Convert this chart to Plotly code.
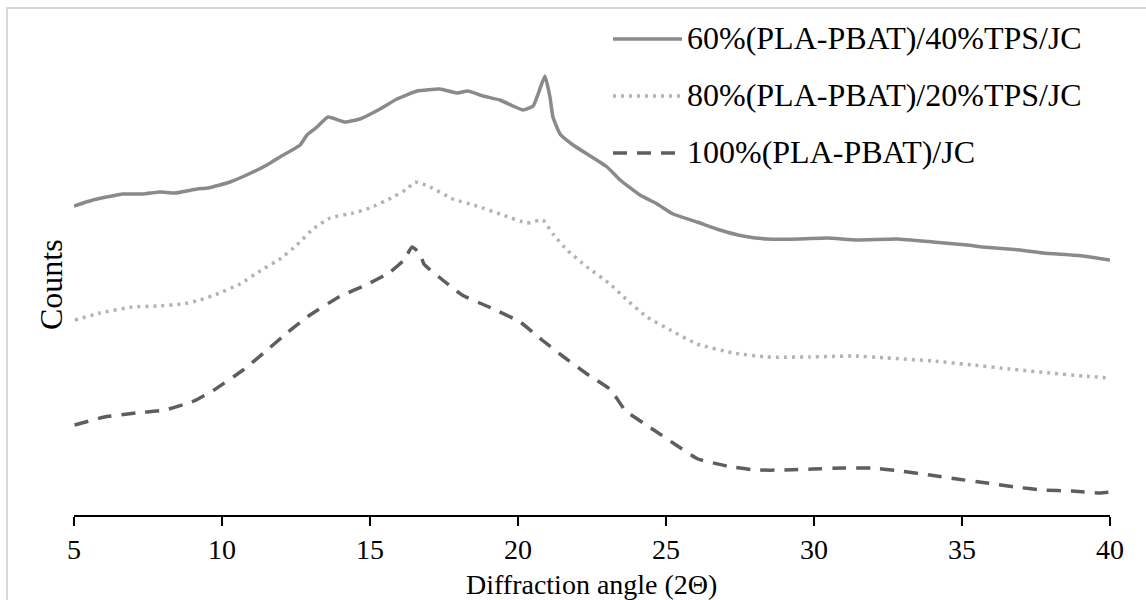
import plotly.graph_objects as go

# ---------------- data ----------------
series_names = [
    "60%(PLA-PBAT)/40%TPS/JC",
    "80%(PLA-PBAT)/20%TPS/JC",
    "100%(PLA-PBAT)/JC",
]

angle_60 = [5.00, 5.64, 6.66, 7.33, 7.91, 8.41, 9.16, 9.53, 10.27, 11.05, 11.52, 11.96,
            12.64, 12.87, 13.21, 13.58, 14.16, 14.66, 15.34, 15.91, 16.59, 17.36, 17.94,
            18.31, 18.82, 19.39, 19.83, 20.17, 20.51, 20.74, 20.91, 21.08, 21.18, 21.42,
            21.86, 23.01, 23.45, 24.12, 24.70, 25.24, 26.05, 26.82, 27.60, 28.41, 29.53,
            30.44, 31.45, 32.80, 34.02, 35.17, 35.71, 36.96, 37.74, 39.09, 40.00]
counts_60 = [309, 315, 321, 321, 323, 322, 326, 327, 333, 343, 350, 358,
             370, 380, 388, 398, 393, 396, 406, 416, 424, 426, 422,
             424, 419, 415, 409, 405, 409, 426, 439, 418, 398, 381,
             370, 348, 335, 320, 311, 301, 293, 285, 279, 276, 276,
             277, 275, 276, 273, 270, 268, 265, 262, 259, 255]

angle_80 = [5.03, 5.88, 6.96, 7.80, 8.68, 9.26, 9.83, 10.61, 11.28, 11.96, 12.53, 13.07,
            13.65, 14.43, 15.00, 15.78, 16.25, 16.52, 17.03, 17.80, 18.61, 19.49, 20.30,
            20.84, 21.18, 21.66, 22.33, 23.11, 23.68, 24.36, 25.14, 26.05, 27.26, 28.41,
            29.86, 31.32, 32.47, 34.02, 35.37, 36.62, 37.97, 39.09, 40.00]
counts_80 = [195, 202, 208, 209, 211, 215, 221, 231, 244, 256, 270, 286,
             297, 302, 307, 318, 326, 333, 328, 316, 309, 300, 292,
             295, 281, 265, 248, 231, 215, 198, 185, 171, 162, 158,
             158, 159, 157, 154, 150, 146, 142, 139, 137]

angle_100 = [5.02, 6.03, 7.09, 8.07, 9.05, 9.73, 10.71, 11.45, 12.23, 12.97, 13.95, 14.93,
             15.68, 16.15, 16.42, 16.70, 16.82, 17.33, 18.11, 19.02, 20.07, 20.81, 21.55,
             22.33, 23.14, 23.61, 24.59, 25.34, 26.08, 27.06, 28.01, 29.02, 29.97, 30.98,
             31.96, 32.91, 33.92, 34.83, 35.84, 36.79, 37.74, 38.72, 39.66, 40.00]
counts_100 = [90, 98, 102, 105, 114, 125, 145, 163, 183, 200, 218, 231,
              243, 255, 268, 261, 251, 238, 220, 208, 193, 175, 158,
              141, 125, 105, 85, 70, 56, 49, 45, 45, 46, 47,
              47, 44, 40, 36, 32, 28, 25, 24, 22, 23]

x_ticks = [5, 10, 15, 20, 25, 30, 35, 40]

# ---------------- styling ----------------
W, H = 1146, 600
M_L, M_R, M_T, M_B = 74, 36, 56, 85
PW, PH = W - M_L - M_R, H - M_T - M_B
FONT = "Liberation Serif, Times New Roman, serif"

colors = ["#8a8a8a", "#b3b3b3", "#5e5e5e"]
dashes = ["solid", "3px,5px", "14px,10px"]


def px_x(p):
    return (p - M_L) / PW


def px_y(p):
    return (H - M_B - p) / PH


fig = go.Figure()
for name, xs, ys, c, d in zip(series_names,
                              [angle_60, angle_80, angle_100],
                              [counts_60, counts_80, counts_100],
                              colors, dashes):
    fig.add_trace(go.Scatter(x=xs, y=ys, mode="lines", name=name,
                             line=dict(color=c, width=3.5, dash=d, shape="spline", smoothing=0.4),
                             showlegend=False, hoverinfo="x+y+name"))

shapes = []
annotations = []
# outer light-grey frame
shapes.append(dict(type="rect", xref="paper", yref="paper",
                   x0=px_x(7), x1=px_x(1160), y0=px_y(8), y1=px_y(620),
                   line=dict(color="#d9d9d9", width=2), layer="below"))

# custom legend
leg_rows = [39, 96, 153]
for name, c, d, row in zip(series_names, colors, dashes, leg_rows):
    shapes.append(dict(type="line", xref="paper", yref="paper",
                       x0=px_x(613), x1=px_x(682), y0=px_y(row), y1=px_y(row),
                       line=dict(color=c, width=3.5, dash=d)))
    annotations.append(dict(xref="paper", yref="paper", x=px_x(685), y=px_y(row - 1),
                            xanchor="left", yanchor="middle", showarrow=False,
                            text=name, font=dict(family=FONT, size=32, color="black")))

# axis titles
annotations.append(dict(xref="paper", yref="paper", x=px_x(591), y=px_y(584),
                        xanchor="center", yanchor="middle", showarrow=False,
                        borderpad=0,
                        text="Diffraction angle (2Θ)",
                        font=dict(family=FONT, size=28, color="black")))
annotations.append(dict(xref="paper", yref="paper", x=px_x(51), y=px_y(285),
                        xanchor="center", yanchor="middle", showarrow=False,
                        text="Counts", textangle=-90,
                        font=dict(family=FONT, size=32, color="black")))

fig.update_layout(
    width=W, height=H,
    margin=dict(l=M_L, r=M_R, t=M_T, b=M_B, autoexpand=False),
    paper_bgcolor="white", plot_bgcolor="white",
    shapes=shapes, annotations=annotations,
    showlegend=False,
    xaxis=dict(range=[5, 40], tickmode="array", tickvals=x_ticks,
               ticktext=[str(t) for t in x_ticks],
               showline=True, linecolor="black", linewidth=1.5,
               ticks="outside", ticklen=9, tickwidth=1.5, tickcolor="black",
               showgrid=False, zeroline=False,
               tickfont=dict(family=FONT, size=28, color="black")),
    yaxis=dict(range=[0, PH], showline=False, showticklabels=False, ticks="",
               showgrid=False, zeroline=False),
)

fig.write_html("out.html")
